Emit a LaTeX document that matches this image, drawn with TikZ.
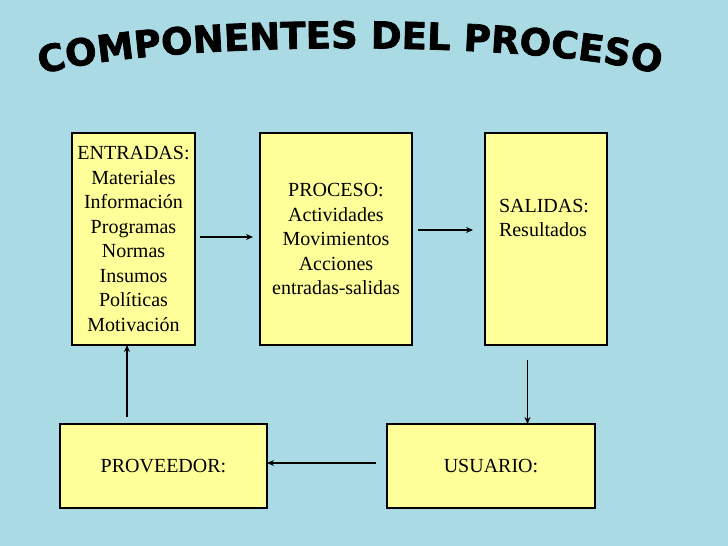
\documentclass[tikz,border=0pt]{standalone}
\usepackage{fontspec}
\setmainfont{Liberation Serif}
\newfontfamily\titulofont[BoldFeatures={FakeBold=2}]{DejaVu Sans}
\usetikzlibrary{arrows.meta}
\usetikzlibrary{decorations.text}

\definecolor{fondo}{RGB}{170,219,228}
\definecolor{amarillo}{RGB}{255,255,153}

\begin{document}
\begin{tikzpicture}[x=1pt, y=1pt,
    every node/.style={inner sep=2pt, outer sep=0pt},
    bloque/.style={draw=black, line width=1.6pt, fill=amarillo, align=center,
      font=\fontsize{20}{24.5}\selectfont},
    flecha/.style={line width=1.5pt, -{Stealth[length=7pt, width=6pt]}}]
      \fill[fondo] (0,0) rectangle (728,546);

      % titulo en arco
      \path[decorate, decoration={text along path, text align=center,
        text={|\titulofont\bfseries\fontsize{37}{37}\selectfont|COMPONENTES DEL PROCESO}}]
        (36,470) .. controls (150,507) and (550,507) .. (664,470);

      \draw (133.5,307) node[bloque, minimum width=123pt, minimum height=212pt] (entradas)
        {ENTRADAS:\\Materiales\\Informaci\'on\\Programas\\Normas\\Insumos\\Pol\'iticas\\Motivaci\'on};
      \draw (336,307) node[bloque, minimum width=152pt, minimum height=212pt] (proceso)
        {PROCESO:\\Actividades\\Movimientos\\Acciones\\entradas-salidas};
      \draw (546,307) node[bloque, minimum width=122pt, minimum height=212pt] (salidas) {};
      \draw ([xshift=12pt, yshift=21pt]salidas.west) node[anchor=west, align=left,
        font=\fontsize{20}{24.5}\selectfont] (salidastxt) {SALIDAS:\\Resultados};
      \draw (163.5,80) node[bloque, minimum width=207pt, minimum height=84pt] (proveedor) {PROVEEDOR:};
      \draw (491,80) node[bloque, minimum width=207.5pt, minimum height=84pt] (usuario) {USUARIO:};

      \draw[flecha, shorten <=5pt, shorten >=7pt] ([yshift=2pt]entradas.east) -- ([yshift=2pt]proceso.west);
      \draw[flecha, shorten <=6pt, shorten >=12pt] ([yshift=9pt]proceso.east) -- ([yshift=9pt]salidas.west);

      \coordinate (bajada) at ([xshift=-18.5pt]salidas.south);
      \draw[flecha, shorten <=15pt] (bajada) -- (bajada |- usuario.north);

      \draw[flecha, shorten <=11.5pt] ([yshift=3pt]usuario.west) -- ([yshift=3pt]proveedor.east);

      \coordinate (subida) at ([xshift=-36.5pt]proveedor.north);
      \draw[flecha, shorten <=7pt] (subida) -- (subida |- entradas.south);
    \end{tikzpicture}
\end{document}
